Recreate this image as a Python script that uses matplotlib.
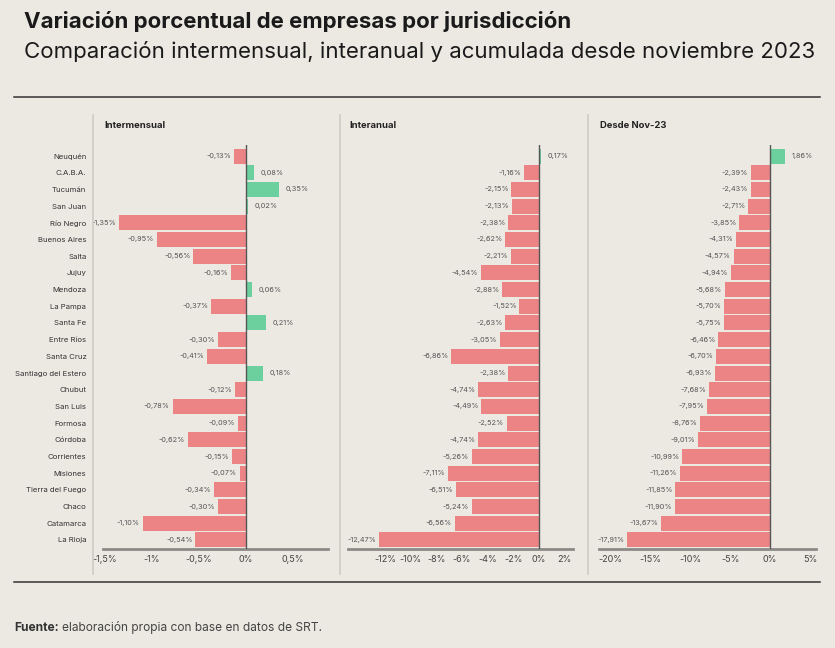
import matplotlib
matplotlib.use("Agg")
import matplotlib.pyplot as plt
from matplotlib.lines import Line2D

plt.rcParams['font.family'] = ['Inter', 'DejaVu Sans']

provincias = ["Neuquén", "C.A.B.A.", "Tucumán", "San Juan", "Río Negro", "Buenos Aires",
              "Salta", "Jujuy", "Mendoza", "La Pampa", "Santa Fe", "Entre Ríos",
              "Santa Cruz", "Santiago del Estero", "Chubut", "San Luis", "Formosa",
              "Córdoba", "Corrientes", "Misiones", "Tierra del Fuego", "Chaco",
              "Catamarca", "La Rioja"]

intermensual = [-0.13, 0.08, 0.35, 0.02, -1.35, -0.95, -0.56, -0.16, 0.06, -0.37, 0.21, -0.30,
                -0.41, 0.18, -0.12, -0.78, -0.09, -0.62, -0.15, -0.07, -0.34, -0.30, -1.10, -0.54]

interanual = [0.17, -1.16, -2.15, -2.13, -2.38, -2.62, -2.21, -4.54, -2.88, -1.52, -2.63, -3.05,
              -6.86, -2.38, -4.74, -4.49, -2.52, -4.74, -5.26, -7.11, -6.51, -5.24, -6.56, -12.47]

desde_nov23 = [1.86, -2.39, -2.43, -2.71, -3.85, -4.31, -4.57, -4.94, -5.68, -5.70, -5.75, -6.46,
               -6.70, -6.93, -7.68, -7.95, -8.76, -9.01, -10.99, -11.26, -11.85, -11.90, -13.67, -17.91]

titulos = ["Intermensual", "Interanual", "Desde Nov-23"]
ticks = [[-1.5, -1, -0.5, 0, 0.5],
         [-12, -10, -8, -6, -4, -2, 0, 2],
         [-20, -15, -10, -5, 0, 5]]
tick_labels = [["-1,5%", "-1%", "-0,5%", "0%", "0,5%"],
               ["-12%", "-10%", "-8%", "-6%", "-4%", "-2%", "0%", "2%"],
               ["-20%", "-15%", "-10%", "-5%", "0%", "5%"]]

BG = "#ece9e3"
ROJO = "#ec8385"
VERDE = "#6ccf9e"
W, H = 835, 648

fig = plt.figure(figsize=(W / 100, H / 100), dpi=100, facecolor=BG)

def fx(px):
    return px / W

def fy(py):
    return 1 - py / H

# titulo y subtitulo
fig.text(fx(24), fy(22), "Variación porcentual de empresas por jurisdicción",
         fontsize=16, fontweight="bold", color="#1a1a1a", va="center", ha="left")
fig.text(fx(24), fy(52), "Comparación intermensual, interanual y acumulada desde noviembre 2023",
         fontsize=16, color="#1a1a1a", va="center", ha="left")

# fuente
t = fig.text(fx(14), fy(628), "Fuente:", fontsize=8.6, fontweight="bold", color="#333333", va="center")
r = fig.canvas.get_renderer()
x_fin = t.get_window_extent(renderer=r).x1
fig.text(fx(x_fin + 3), fy(628), "elaboración propia con base en datos de SRT.", fontsize=8.6,
         color="#444444", va="center")

# lineas horizontales y separadores
for y in (97, 582):
    fig.add_artist(Line2D([fx(14), fx(820)], [fy(y), fy(y)], color="#333333", lw=1.1))
for x in (93, 340, 588):
    fig.add_artist(Line2D([fx(x), fx(x)], [fy(115), fy(574)], color="#cfccc6", lw=1.2))

# posiciones de paneles: (izq px, der px, xlim)
paneles = [(103, 328, (-1.52, 0.87)),
           (348, 573, (-14.9, 2.66)),
           (599, 816, (-21.4, 5.75))]
series = [intermensual, interanual, desde_nov23]
y = list(range(len(provincias)))

for i, (izq, der, xlim) in enumerate(paneles):
    ax = fig.add_axes([fx(izq), fy(549), fx(der - izq), (549 - 145) / H])
    ax.set_facecolor("none")
    vals = series[i]
    colores = [VERDE if v > 0 else ROJO for v in vals]
    ax.barh(y, vals, height=0.9, color=colores, edgecolor="none", zorder=2)
    ax.axvline(0, color="#555555", lw=1.0, zorder=3)
    ax.set_xlim(*xlim)
    ax.set_ylim(23.54, -0.66)
    span = xlim[1] - xlim[0]
    for yy, v in zip(y, vals):
        txt = f"{v:.2f}".replace(".", ",") + "%"
        if v < 0:
            ax.text(v - span * 0.012, yy, txt, ha="right", va="center", fontsize=5.3, color="#555555")
        else:
            ax.text(v + span * 0.03, yy, txt, ha="left", va="center", fontsize=5.3, color="#555555")
    for s in ("top", "right", "left"):
        ax.spines[s].set_visible(False)
    ax.spines["bottom"].set_color("#8c8a86")
    ax.spines["bottom"].set_linewidth(2)
    ax.set_xticks(ticks[i])
    ax.set_xticklabels(tick_labels[i], fontsize=6.5, color="#444444")
    ax.tick_params(axis="x", length=0, pad=4)
    if i == 0:
        ax.set_yticks(y)
        ax.set_yticklabels(provincias, fontsize=5.6, color="#333333")
        ax.tick_params(axis="y", length=0, pad=12)
    else:
        ax.set_yticks([])
    fig.text(fx(izq + 1), fy(125), titulos[i], fontsize=6.8, fontweight="bold",
             color="#222222", va="center", ha="left")

fig.savefig("out.png", dpi=100, facecolor=BG)
